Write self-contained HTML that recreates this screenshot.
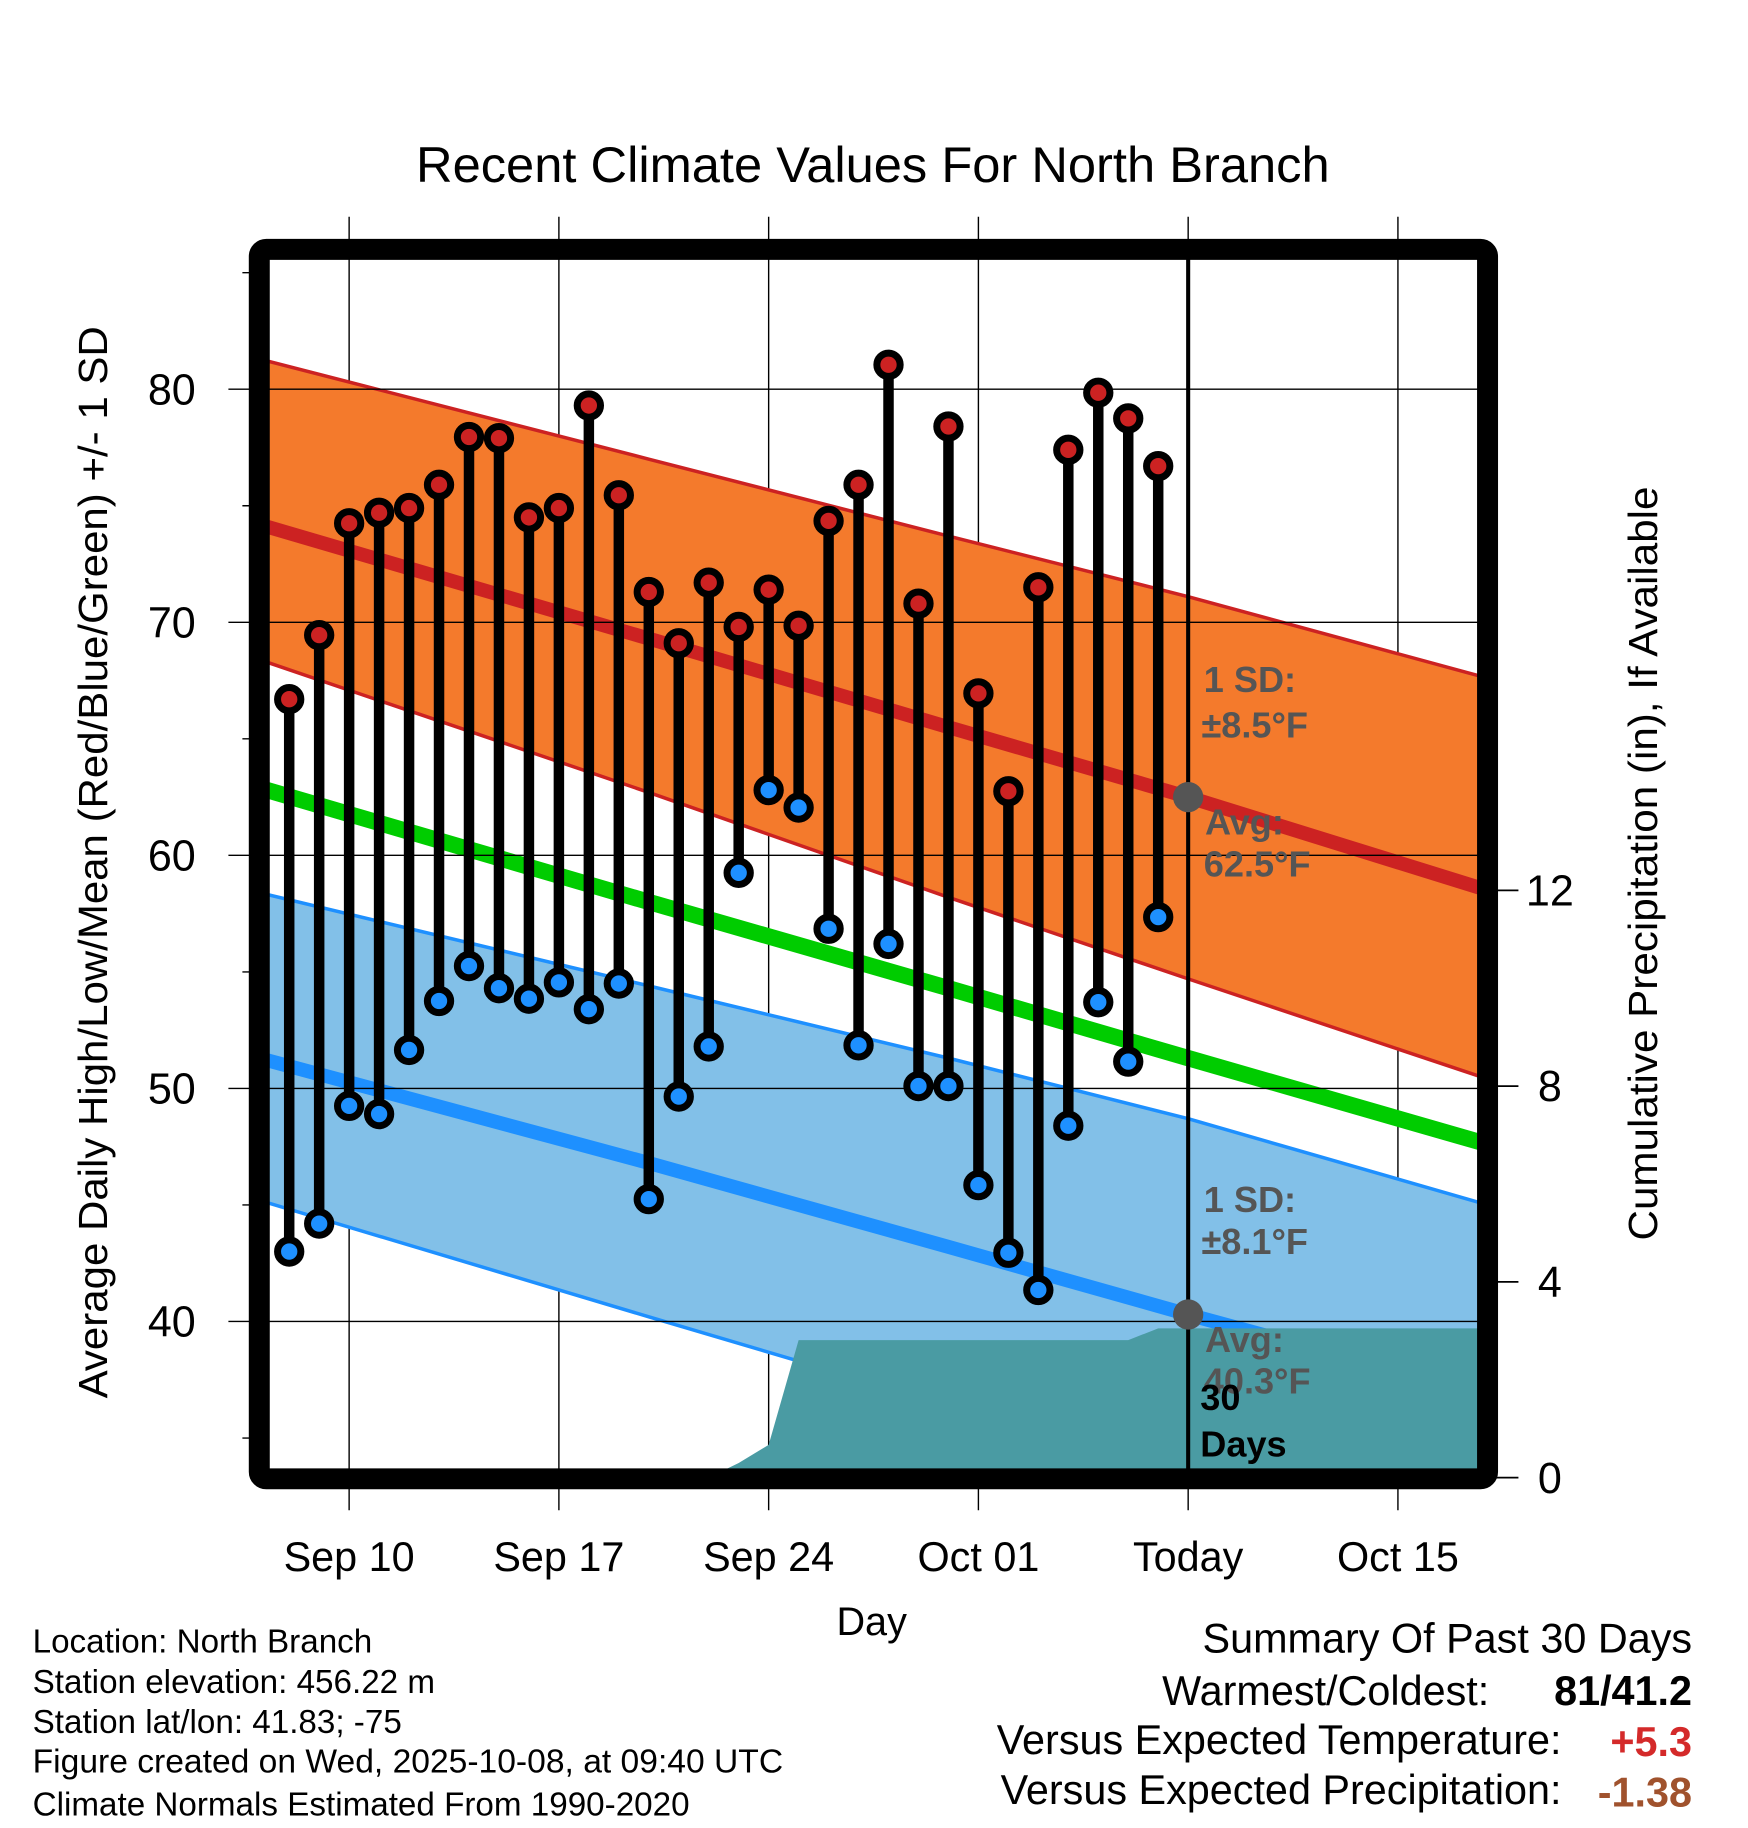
<!DOCTYPE html>
<html><head><meta charset="utf-8"><style>
html,body{margin:0;padding:0;background:#fff}
svg{display:block;font-family:"Liberation Sans",Arial,sans-serif}
</style></head><body>
<svg id="chart" width="1748" height="1828" viewBox="0 0 1500 1568.65" xmlns="http://www.w3.org/2000/svg">
<defs><clipPath id="plotclip"><rect x="231" y="222" width="1038" height="1039"/></clipPath></defs>
<rect width="1500" height="1569" fill="#fff"/>
<text x="749" y="156" font-size="43" text-anchor="middle" textLength="784" lengthAdjust="spacingAndGlyphs">Recent Climate Values For North Branch</text>
<g id="grid"></g>
<g id="plot" clip-path="url(#plotclip)"></g>
<g id="marks"></g>
<rect x="222.5" y="214" width="1054" height="1055" rx="6" fill="none" stroke="#000" stroke-width="18"/>
<g id="axes"></g>
<text transform="translate(92,740) rotate(-90)" font-size="35" text-anchor="middle" textLength="920" lengthAdjust="spacingAndGlyphs">Average Daily High/Low/Mean (Red/Blue/Green) +/- 1 SD</text>
<text transform="translate(1422,741) rotate(-90)" font-size="35" text-anchor="middle" textLength="647" lengthAdjust="spacingAndGlyphs">Cumulative Precipitation (in), If Available</text>
<text x="748" y="1403" font-size="34" text-anchor="middle">Day</text>
<g font-size="28.5">
<text x="28" y="1418">Location: North Branch</text>
<text x="28" y="1453">Station elevation: 456.22 m</text>
<text x="28" y="1487">Station lat/lon: 41.83; -75</text>
<text x="28" y="1521" textLength="644" lengthAdjust="spacingAndGlyphs">Figure created on Wed, 2025-10-08, at 09:40 UTC</text>
<text x="28" y="1558">Climate Normals Estimated From 1990-2020</text>
</g>
<g font-size="35.5">
<text x="1452" y="1418" text-anchor="end">Summary Of Past 30 Days</text>
<text x="1278" y="1463" text-anchor="end">Warmest/Coldest:</text>
<text x="1452" y="1463" text-anchor="end" font-weight="bold">81/41.2</text>
<text x="1340" y="1505" text-anchor="end">Versus Expected Temperature:</text>
<text x="1452" y="1507" text-anchor="end" font-weight="bold" fill="#d42a2a">+5.3</text>
<text x="1340" y="1548" text-anchor="end">Versus Expected Precipitation:</text>
<text x="1452" y="1550" text-anchor="end" font-weight="bold" fill="#a0522d">-1.38</text>
</g>
</svg>
<script>
// day offsets relative to Sep 10
const obsDays = [-2,-1,0,1,2,3,4,5,6,7,8,9,10,11,12,13,14,15,16,17,18,19,20,21,22,23,24,25,26,27];
const highs = [66.7,69.45,74.25,74.7,74.9,75.9,77.95,77.9,74.5,74.9,79.3,75.45,71.3,69.1,71.7,69.8,71.4,69.85,74.35,75.9,81.05,70.8,78.4,66.95,62.75,71.5,77.4,79.85,78.75,76.7];
const lows = [43.0,44.2,49.25,48.9,51.65,53.75,55.25,54.3,53.85,54.55,53.4,54.5,45.25,49.65,51.8,59.25,62.8,62.05,56.85,51.85,56.2,50.1,50.1,45.85,42.95,41.35,48.4,53.7,51.15,57.35];
const normDays = [-3,10,20,28,38];
const normHigh = [74.2,69.3,65.5,62.5,58.5];
const normHighUp = [81.3,77.0,73.7,71.1,67.6];
const normHighLo = [68.4,62.7,58.2,54.7,50.4];
const normMean = [62.9,58.0,54.3,51.3,47.6];
const normLow = [51.3,46.8,43.2,40.3,36.8];
const normLowUp = [58.4,54.4,51.3,48.7,45.0];
const normLowLo = [45.2,40.2,36.4,33.4,29.6];
const precipDays = [-3,12,13,14,15,26,27,38];
const precipCum = [0,0,0.3,0.67,2.81,2.81,3.05,3.05];
const xTickDays = [0,7,14,21,28,35];
const xTickLabels = ["Sep 10","Sep 17","Sep 24","Oct 01","Today","Oct 15"];
const yTicks = [40,50,60,70,80];
const yMinor = [35,45,55,65,75,85];
const pTicks = [0,4,8,12];
const todayDay = 28;
const todayHighAvg = 62.5, todayLowAvg = 40.3;

const NS="http://www.w3.org/2000/svg";
const X=d=>299.6+25.714*d;
const Y=v=>334+(80-v)*20;
const P=p=>1268-42*p;
function mk(tag,attrs,parent){const e=document.createElementNS(NS,tag);for(const k in attrs)e.setAttribute(k,attrs[k]);parent.appendChild(e);return e;}
const grid=document.getElementById('grid'),plot=document.getElementById('plot'),marks=document.getElementById('marks'),axes=document.getElementById('axes');

xTickDays.forEach((d,i)=>{
 const l=mk('line',{x1:X(d),x2:X(d),y1:186,y2:1296,stroke:'#000','stroke-width':1.2},grid);
 
 
 const t=mk('text',{x:X(d),y:1348,'font-size':35.5,'text-anchor':'middle'},axes);
 t.textContent=xTickLabels[i];
 
 
});
const line=(arr)=>normDays.map((d,i)=>X(d)+','+Y(arr[i])).join(' ');
const band=(up,lo)=>{const a=normDays.map((d,i)=>X(d)+','+Y(up[i]));const b=normDays.map((d,i)=>X(d)+','+Y(lo[i])).reverse();return a.concat(b).join(' ');};
let e;
e=mk('polygon',{points:band(normHighUp,normHighLo),fill:'#f47a2c'},plot);


e=mk('polygon',{points:band(normLowUp,normLowLo),fill:'#82c0e8'},plot);


[[normHighUp,'#cc2222',3,'high-upper-sd'],[normHighLo,'#cc2222',3,'high-lower-sd'],[normHigh,'#cc2222',12,'normal-high-line'],[normLowUp,'#1e90ff',3,'low-upper-sd'],[normLowLo,'#1e90ff',3,'low-lower-sd'],[normLow,'#1e90ff',12,'normal-low-line'],[normMean,'#00cc00',14,'normal-mean-line']].forEach(s=>{
 const pl=mk('polyline',{points:line(s[0]),fill:'none',stroke:s[1],'stroke-width':s[2]},plot);
 
 
});
const pp=[X(precipDays[0])+','+P(0)].concat(precipDays.map((d,i)=>X(d)+','+P(precipCum[i]))).concat([X(precipDays[precipDays.length-1])+','+P(0)]);
e=mk('polygon',{points:pp.join(' '),fill:'#4a9ba3'},plot);


yTicks.forEach(v=>{
 const l=mk('line',{x1:196,x2:1268,y1:Y(v),y2:Y(v),stroke:'#000','stroke-width':1.2},marks);
 
 
 const t=mk('text',{x:168,y:Y(v)+13,'font-size':37,'text-anchor':'end'},axes);
 t.textContent=v;
 
 
});
yMinor.forEach(v=>{
 const l=mk('line',{x1:208,x2:222,y1:Y(v),y2:Y(v),stroke:'#000','stroke-width':1.2},axes);
 
 
});
pTicks.forEach(p=>{
 const l=mk('line',{x1:1280,x2:1303,y1:P(p),y2:P(p),stroke:'#000','stroke-width':1.5},axes);
 
 
 const t=mk('text',{x:1330,y:P(p)+13,'font-size':37,'text-anchor':'middle'},axes);
 t.textContent=p;
 
 
});
e=mk('line',{x1:X(todayDay),x2:X(todayDay),y1:222,y2:1262,stroke:'#000','stroke-width':3.5},marks);


function lbl(x,y,txt,fill,name){const t=mk('text',{x:x,y:y,'font-size':31,'font-weight':'bold',fill:fill},marks);t.textContent=txt;}
lbl(1033,594,'1 SD:','#555','high-sd-label');
lbl(1031,633,'±8.5°F','#555','high-sd-value');
lbl(1034,716,'Avg:','#555','high-avg-label');
lbl(1033,752,todayHighAvg.toFixed(1)+'°F','#555','high-avg-value');
lbl(1033,1040,'1 SD:','#555','low-sd-label');
lbl(1031,1076,'±8.1°F','#555','low-sd-value');
lbl(1034,1160,'Avg:','#555','low-avg-label');
lbl(1033,1196,todayLowAvg.toFixed(1)+'°F','#555','low-avg-value');
lbl(1030,1210,'30','#000','window-days-number');
lbl(1030,1250,'Days','#000','window-days-label');
e=mk('circle',{cx:X(todayDay),cy:Y(todayHighAvg),r:13,fill:'#555'},marks);


e=mk('circle',{cx:X(todayDay),cy:Y(todayLowAvg),r:13,fill:'#555'},marks);


obsDays.forEach((d,i)=>{
 const s=mk('line',{x1:X(d),x2:X(d),y1:Y(highs[i]),y2:Y(lows[i]),stroke:'#000','stroke-width':9},marks);
 
 
 const h=mk('circle',{cx:X(d),cy:Y(highs[i]),r:10,fill:'#cc2222',stroke:'#000','stroke-width':6},marks);
 
 
 const l=mk('circle',{cx:X(d),cy:Y(lows[i]),r:10,fill:'#1e90ff',stroke:'#000','stroke-width':6},marks);
 
 
});
</script>
</body></html>
